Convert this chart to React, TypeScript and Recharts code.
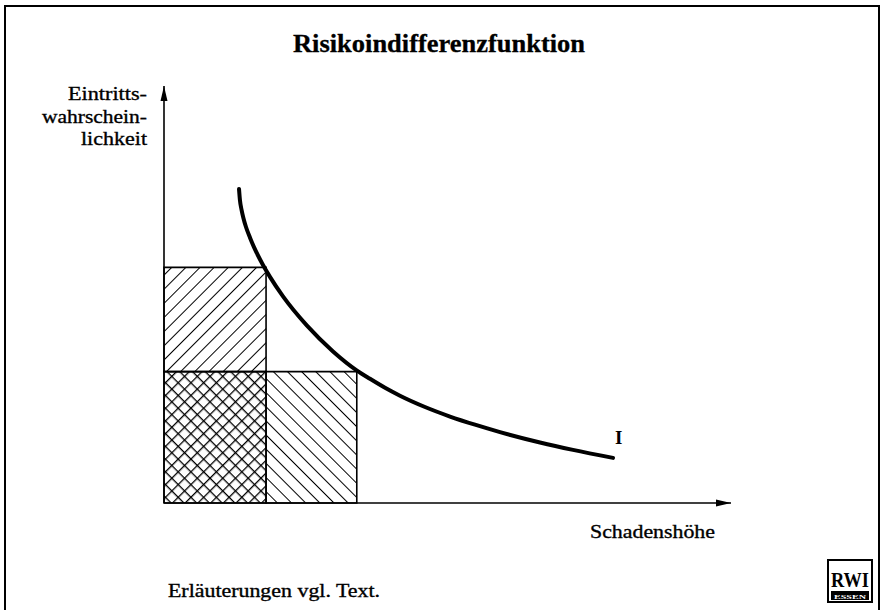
import React from 'react';
import { ComposedChart, Line, XAxis, YAxis, ReferenceArea, ReferenceLine, ReferenceDot } from 'recharts';

// Curve "I" (Risikoindifferenzkurve), in axis units (0..100)
const curveX = [13.23, 13.40, 13.67, 13.99, 14.46, 15.17, 15.87, 16.58, 17.46, 18.69, 20.99, 25.22, 29.81, 34.04, 36.33, 38.98, 41.62, 46.03, 50.44, 54.85, 59.26, 66.31, 72.13, 79.19];
const curveY = [75.30, 72.54, 70.38, 68.42, 66.19, 63.62, 61.37, 59.35, 57.07, 54.22, 49.54, 42.52, 36.35, 31.75, 29.78, 27.63, 25.73, 23.02, 20.74, 18.78, 17.00, 14.51, 12.73, 10.82];

// Hatched rectangles
const rectX1 = [0, 0, 18];
const rectX2 = [18, 18, 34];
const rectY1 = [31.5, 0, 0];
const rectY2 = [56.5, 31.5, 31.5];
const rectPattern = ['hatchFwd', 'hatchCross', 'hatchBack'];

const title = 'Risikoindifferenzfunktion';
const yLabelLines = ['Eintritts-', 'wahrschein-', 'lichkeit'];
const yLabelWidths = [79, 105, 66];
const xLabel = 'Schadenshöhe';
const curveLabel = 'I';
const footnote = 'Erläuterungen vgl. Text.';

const curveData = curveX.map((x, i) => ({ x, y: curveY[i] }));

const FONT = '"Liberation Serif", "DejaVu Serif", serif';

const ArrowUp = (props: any) => {
  const { cx, cy } = props;
  return <path d={`M${cx},${cy} L${cx - 3.5},${cy + 15} L${cx + 3.5},${cy + 15} Z`} fill="#000" />;
};
const ArrowRight = (props: any) => {
  const { cx, cy } = props;
  return <path d={`M${cx},${cy} L${cx - 15},${cy - 3.5} L${cx - 15},${cy + 3.5} Z`} fill="#000" />;
};

export default function App() {
  return (
    <div style={{ position: 'absolute', left: 0, top: 0, width: 881, height: 610, background: '#fff', overflow: 'hidden' }}>
      <svg width={0} height={0} style={{ position: 'absolute' }}>
        <defs>
          <pattern id="hatchFwd" patternUnits="userSpaceOnUse" width={10} height={10} patternTransform="rotate(45)">
            <line x1={0} y1={0} x2={0} y2={10} stroke="#000" strokeWidth={2} />
          </pattern>
          <pattern id="hatchBack" patternUnits="userSpaceOnUse" width={10} height={10} patternTransform="rotate(-45)">
            <line x1={0} y1={0} x2={0} y2={10} stroke="#000" strokeWidth={2} />
          </pattern>
          <pattern id="hatchCross" patternUnits="userSpaceOnUse" width={9} height={9} patternTransform="rotate(45)">
            <line x1={0} y1={0} x2={0} y2={9} stroke="#000" strokeWidth={2.6} />
            <line x1={0} y1={0} x2={9} y2={0} stroke="#000" strokeWidth={2.6} />
          </pattern>
        </defs>
      </svg>
      <div style={{ position: 'absolute', left: 0, top: 0 }}>
        <ComposedChart width={881} height={610} margin={{ left: 164, right: 150, top: 86, bottom: 107 }}>
          <XAxis type="number" dataKey="x" domain={[0, 100]} hide />
          <YAxis type="number" dataKey="y" domain={[0, 100]} hide />
          {rectX1.map((x1, i) => (
            <ReferenceArea
              key={i}
              x1={x1}
              x2={rectX2[i]}
              y1={rectY1[i]}
              y2={rectY2[i]}
              fill={`url(#${rectPattern[i]})`}
              fillOpacity={1}
              stroke="#000"
              strokeWidth={1.6}
              ifOverflow="visible"
            />
          ))}
          <ReferenceLine x={0} stroke="#000" strokeWidth={1.6} />
          <ReferenceLine y={0} stroke="#000" strokeWidth={1.6} />
          <ReferenceDot x={0} y={100} r={1} shape={ArrowUp} ifOverflow="visible" />
          <ReferenceDot x={100} y={0} r={1} shape={ArrowRight} ifOverflow="visible" />
          <Line
            data={curveData}
            dataKey="y"
            type="monotone"
            stroke="#000"
            strokeWidth={4}
            strokeLinecap="round"
            dot={false}
            isAnimationActive={false}
          />
        </ComposedChart>
      </div>
      <svg width={881} height={610} style={{ position: 'absolute', left: 0, top: 0, pointerEvents: 'none' }}>
        <path d="M5,612 L5,6 L879,6 L879,612" fill="none" stroke="#000" strokeWidth={2} />
        <text x={293} y={52} fontFamily={FONT} fontWeight="bold" fontSize={26} fill="#000" stroke="#000" strokeWidth={0.3} textLength={292} lengthAdjust="spacingAndGlyphs">
          {title}
        </text>
        {yLabelLines.map((t, i) => (
          <text key={i} x={147 - yLabelWidths[i]} y={100 + i * 22.5} fontFamily={FONT} fontSize={19} fill="#000" stroke="#000" strokeWidth={0.35} textLength={yLabelWidths[i]} lengthAdjust="spacingAndGlyphs">
            {t}
          </text>
        ))}
        <text x={590} y={538} fontFamily={FONT} fontSize={19} fill="#000" stroke="#000" strokeWidth={0.35} textLength={125} lengthAdjust="spacingAndGlyphs">
          {xLabel}
        </text>
        <text x={615} y={444} fontFamily={FONT} fontWeight="bold" fontSize={19} fill="#000">
          {curveLabel}
        </text>
        <text x={168} y={597} fontFamily={FONT} fontSize={19} fill="#000" stroke="#000" strokeWidth={0.35} textLength={212} lengthAdjust="spacingAndGlyphs">
          {footnote}
        </text>
        <rect x={828} y={560} width={44} height={42} fill="#fff" stroke="#000" strokeWidth={2} />
        <text x={850} y={587} textAnchor="middle" fontFamily={FONT} fontWeight="bold" fontSize={22} fill="#000" textLength={38} lengthAdjust="spacingAndGlyphs">
          RWI
        </text>
        <rect x={831} y={591} width={38} height={9} fill="#000" />
        <text x={850} y={598.5} textAnchor="middle" fontFamily={FONT} fontWeight="bold" fontSize={7} fill="#fff" textLength={32} lengthAdjust="spacingAndGlyphs">
          ESSEN
        </text>
      </svg>
    </div>
  );
}
